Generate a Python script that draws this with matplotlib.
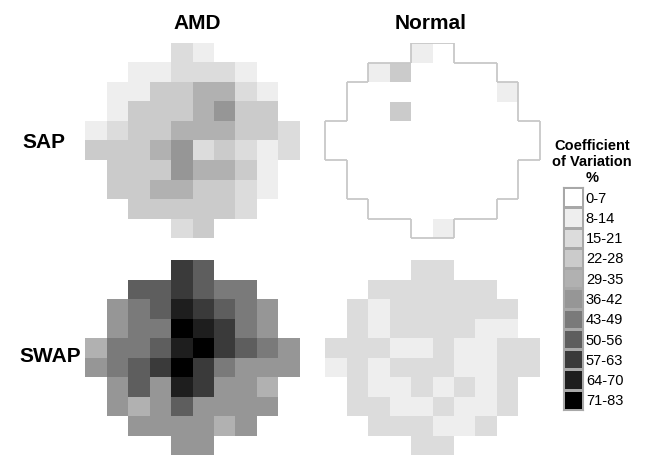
import numpy as np
import matplotlib
matplotlib.use('Agg')
import matplotlib.pyplot as plt
from matplotlib.colors import ListedColormap, BoundaryNorm
from matplotlib.collections import LineCollection

plt.rcParams['font.family'] = ['Liberation Sans', 'DejaVu Sans']

# legend classes (coefficient of variation, %)
class_labels = ['0-7', '8-14', '15-21', '22-28', '29-35', '36-42',
                '43-49', '50-56', '57-63', '64-70', '71-83']
class_grays = ['#ffffff', '#eeeeee', '#dcdcdc', '#cbcbcb', '#b1b1b1', '#969696',
               '#7a7a7a', '#5e5e5e', '#3a3a3a', '#1e1e1e', '#000000']

# number of test points in each row of the 10-2 field (centred on 10 columns)
row_widths = [2, 6, 8, 8, 10, 10, 8, 8, 6, 2]

# class index of each test point, row by row
amd_sap = [
    [2, 1],
    [1, 1, 2, 2, 2, 1],
    [1, 1, 3, 3, 4, 4, 2, 1],
    [1, 3, 3, 3, 4, 5, 3, 3],
    [1, 2, 3, 3, 4, 4, 4, 3, 3, 2],
    [3, 3, 3, 4, 5, 2, 3, 2, 1, 2],
    [3, 3, 3, 5, 4, 4, 3, 1],
    [3, 3, 4, 4, 3, 3, 2, 1],
    [3, 3, 3, 3, 3, 2],
    [2, 3],
]
normal_sap = [
    [1, 0],
    [1, 3, 0, 0, 0, 0],
    [0, 0, 0, 0, 0, 0, 0, 1],
    [0, 0, 3, 0, 0, 0, 0, 0],
    [0, 0, 0, 0, 0, 0, 0, 0, 0, 0],
    [0, 0, 0, 0, 0, 0, 0, 0, 0, 0],
    [0, 0, 0, 0, 0, 0, 0, 0],
    [0, 0, 0, 0, 0, 0, 0, 0],
    [0, 0, 0, 0, 0, 0],
    [0, 1],
]
amd_swap = [
    [8, 7],
    [7, 7, 8, 7, 6, 6],
    [5, 6, 7, 9, 8, 7, 6, 5],
    [5, 6, 6, 10, 9, 8, 6, 5],
    [4, 6, 6, 7, 9, 10, 8, 7, 6, 5],
    [5, 6, 7, 8, 10, 8, 6, 5, 5, 5],
    [5, 7, 5, 9, 8, 5, 5, 4],
    [5, 4, 5, 7, 5, 5, 5, 5],
    [5, 5, 5, 5, 4, 5],
    [5, 5],
]
normal_swap = [
    [2, 2],
    [2, 2, 2, 2, 2, 2],
    [2, 1, 2, 2, 2, 2, 2, 2],
    [2, 1, 2, 2, 2, 2, 1, 1],
    [2, 2, 2, 1, 1, 2, 1, 1, 2, 2],
    [1, 2, 1, 2, 2, 2, 1, 1, 2, 2],
    [2, 1, 1, 2, 1, 2, 1, 2],
    [2, 2, 1, 1, 2, 1, 1, 2],
    [2, 2, 2, 1, 1, 2],
    [2, 2],
]

W, H = 645, 457
fig = plt.figure(figsize=(W / 100, H / 100), dpi=100)


def px_axes(x0, y0, x1, y1):
    return fig.add_axes([x0 / W, 1 - y1 / H, (x1 - x0) / W, (y1 - y0) / H])


def to_grid(rows):
    grid = np.full((10, 10), np.nan)
    for r, vals in enumerate(rows):
        start = (10 - row_widths[r]) // 2
        grid[r, start:start + len(vals)] = vals
    return np.ma.masked_invalid(grid)


cmap = ListedColormap(class_grays)
norm = BoundaryNorm(np.arange(-0.5, 11.5, 1), cmap.N)


def draw_field(ax, rows, outline=False):
    grid = to_grid(rows)
    ax.pcolormesh(np.arange(11), np.arange(11), grid, cmap=cmap, norm=norm)
    if outline:
        segs = []
        m = ~grid.mask
        for r in range(10):
            for c in range(10):
                if not m[r, c]:
                    continue
                if r == 0 or not m[r - 1, c]:
                    segs.append([(c, r), (c + 1, r)])
                if r == 9 or not m[r + 1, c]:
                    segs.append([(c, r + 1), (c + 1, r + 1)])
                if c == 0 or not m[r, c - 1]:
                    segs.append([(c, r), (c, r + 1)])
                if c == 9 or not m[r, c + 1]:
                    segs.append([(c + 1, r), (c + 1, r + 1)])
        ax.add_collection(LineCollection(segs, colors='#c8c8c8', linewidths=1.3))
    ax.set_xlim(-0.05, 10.05)
    ax.set_ylim(10.05, -0.05)
    ax.axis('off')


draw_field(px_axes(84, 41.7, 301, 239.3), amd_sap)
draw_field(px_axes(324, 42.5, 541, 239.3), normal_sap, outline=True)
draw_field(px_axes(84, 259.3, 301, 456), amd_swap)
draw_field(px_axes(324, 259.3, 541, 456), normal_swap)

# titles and row labels
fig.text(197 / W, 1 - 23.5 / H, 'AMD', ha='center', va='center', fontsize=15, fontweight='bold')
fig.text(431 / W, 1 - 23.5 / H, 'Normal', ha='center', va='center', fontsize=15, fontweight='bold')
fig.text(22 / W, 1 - 143 / H, 'SAP', ha='left', va='center', fontsize=15, fontweight='bold')
fig.text(19 / W, 1 - 357 / H, 'SWAP', ha='left', va='center', fontsize=15, fontweight='bold')

# legend
fig.text(592 / W, 1 - 162 / H, 'Coefficient\nof Variation\n%', ha='center', va='center',
         fontsize=10.5, fontweight='bold', linespacing=1.15)
lax = px_axes(563, 187, 583, 410)
lax.pcolormesh(np.arange(2), np.arange(12), np.arange(11).reshape(-1, 1),
               cmap=cmap, norm=norm, edgecolor='#a8a8a8', linewidth=0.8)
lax.set_xlim(0, 1)
lax.set_ylim(11, 0)
lax.set_xticks([])
lax.yaxis.tick_right()
lax.set_yticks(np.arange(11) + 0.5)
lax.set_yticklabels(class_labels, fontsize=10.5)
lax.tick_params(axis='y', length=0, pad=2)
for s in lax.spines.values():
    s.set_color('#a8a8a8')
    s.set_linewidth(0.8)

fig.savefig('out.png', dpi=100)
